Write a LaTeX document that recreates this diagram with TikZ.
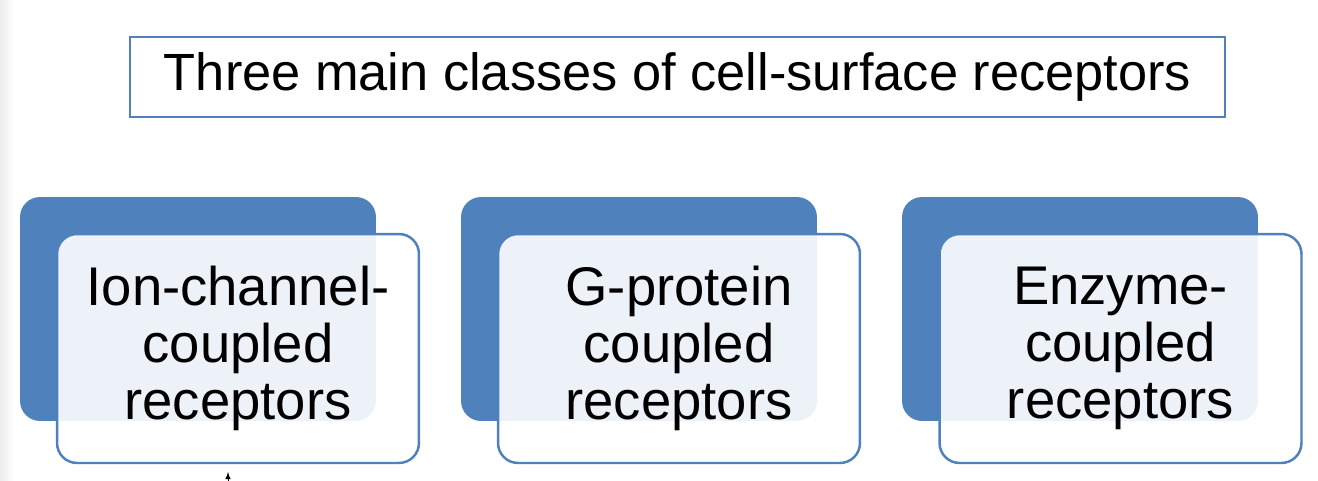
\documentclass[tikz,border=0pt]{standalone}
\usepackage{fontspec}
\setmainfont{Liberation Sans}
\usetikzlibrary{positioning}
\usetikzlibrary{arrows}
\definecolor{officeblue}{HTML}{4F81BD}
\tikzset{>=latex}
\tikzset{title/.style={rectangle, draw=officeblue, line width=1.2pt, minimum width=21.9cm, minimum height=1.6cm, font=\fontsize{29.8}{34}\selectfont}}
\tikzset{backbox/.style={rectangle, rounded corners=0.4cm, fill=officeblue, minimum width=7.12cm, minimum height=4.48cm}}
\tikzset{frontbox/.style={rectangle, rounded corners=0.4cm, draw=officeblue, line width=1.4pt, fill=white, fill opacity=0.9, text opacity=1, minimum width=7.24cm, minimum height=4.58cm, align=center, font=\fontsize{31}{32.6}\selectfont}}

\begin{document}
\begin{tikzpicture}[x=0.02cm, y=-0.02cm]
    \clip (0,0) rectangle (1318,480);
    \fill[white] (0,0) rectangle (1318,480);
    \shade[left color=black!7, right color=white] (0,0) rectangle (14,480);

    \node [title] (heading) at (677.5,77) {Three main classes of cell-surface receptors};

    \node [backbox] (back0) at (198,309) {};
    \node [frontbox] (front0) at (238,348.5) {Ion-channel-\\coupled\\receptors};

    \node [backbox] (back1) at (639,309) {};
    \node [frontbox] (front1) at (679,348.5) {G-protein\\coupled\\receptors};

    \node [backbox] (back2) at (1080,309) {};
    \node [frontbox] (front2) at (1120.5,348.5) {Enzyme-\\coupled\\receptors};

    % arrow coming in from below the page
    \coordinate (arrowTail) at (228,520);
    \coordinate (arrowTip) at (228,472);
    \draw[->] (arrowTail) -- (arrowTip);

\end{tikzpicture}
\end{document}
